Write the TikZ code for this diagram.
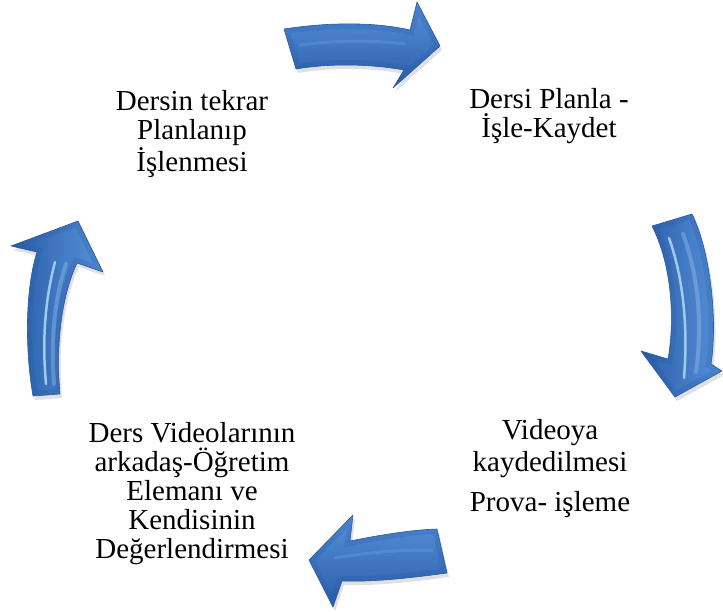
\documentclass[tikz,border=0pt]{standalone}
\usepackage{fontspec}
\setmainfont{Liberation Serif}
\definecolor{arrowmain}{RGB}{62,122,202}
\definecolor{arrowdark}{RGB}{40,90,165}
\definecolor{arrowlight}{RGB}{88,148,220}
\definecolor{hilite}{RGB}{175,218,252}
\begin{document}
\begin{tikzpicture}[x=1pt,y=-1pt]
\tikzset{
  arrowedge/.style={draw=arrowdark, line width=0.6pt, line join=round},
  bevel/.style={draw=arrowdark, line width=10pt, opacity=0.25, line join=miter},
  shine/.style={draw=hilite, line width=2.5pt, line cap=round, opacity=0.85},
  softshine/.style={draw=hilite, line width=4pt, line cap=round, opacity=0.3},
  faintshine/.style={draw=hilite, line width=3pt, line cap=round, opacity=0.15},
  shadowfill/.style={fill=black, opacity=0.12},
  label/.style={font=\fontsize{29}{29}\selectfont, align=center, inner sep=0pt, text=black}
}
\useasboundingbox (0,0) rectangle (723,611);

% outlines of the four curved arrows
\def\pathTop{(284,29) .. controls (330,22) and (375,22) .. (410,30) -- (417,2) -- (440,46) -- (393,88) -- (404,70) .. controls (365,63) and (325,64) .. (296,69) -- cycle}
\def\pathRight{(652,226) -- (692,214) .. controls (710,250) and (718,320) .. (711,364) -- (722,371) -- (675,397) -- (641,351) -- (668,359) .. controls (675,320) and (672,265) .. (652,226) -- cycle}
\def\pathBottom{(437,529) -- (447,573) .. controls (410,578) and (375,582) .. (342,581) -- (333,607) -- (309,560) -- (353,515) -- (350,541) .. controls (380,535) and (410,530) .. (437,529) -- cycle}
\def\pathLeft{(78,221) -- (103,272) -- (77,263) .. controls (60,300) and (56,350) .. (60,394) -- (33,396) .. controls (25,350) and (25,290) .. (37,252) -- (11,246) -- cycle}

% soft shadows
\fill[shadowfill, shift={(2,4)}] \pathTop;
\fill[shadowfill, shift={(2,4)}] \pathRight;
\fill[shadowfill, shift={(2,4)}] \pathBottom;
\fill[shadowfill, shift={(2,4)}] \pathLeft;

% top arrow
\begin{scope}
  \clip \pathTop;
  \shade[top color=arrowlight, middle color=arrowmain, bottom color=arrowdark] (280,0) rectangle (445,92);
  \draw[bevel] \pathTop;
  \draw[faintshine] (300,45) .. controls (340,40) and (370,40) .. (405,44);
\end{scope}
\draw[arrowedge] \pathTop;

% right arrow
\begin{scope}
  \clip \pathRight;
  \shade[left color=arrowdark, middle color=arrowmain, right color=arrowlight] (638,210) rectangle (724,400);
  \draw[bevel] \pathRight;
  \draw[shine] (669,238) .. controls (684,280) and (688,330) .. (684,378);
  \draw[softshine] (683,234) .. controls (700,280) and (702,330) .. (696,372);
\end{scope}
\draw[arrowedge] \pathRight;

% bottom arrow
\begin{scope}
  \clip \pathBottom;
  \shade[top color=arrowlight, middle color=arrowmain, bottom color=arrowdark] (305,512) rectangle (450,610);
  \draw[bevel] \pathBottom;
  \draw[faintshine] (335,558) .. controls (370,552) and (400,550) .. (432,550);
\end{scope}
\draw[arrowedge] \pathBottom;

% left arrow
\begin{scope}
  \clip \pathLeft;
  \shade[left color=arrowdark, middle color=arrowmain, right color=arrowlight] (8,218) rectangle (106,398);
  \draw[bevel] \pathLeft;
  \draw[shine] (55,262) .. controls (45,300) and (42,340) .. (46,384);
  \draw[softshine] (66,264) .. controls (54,300) and (51,340) .. (54,384);
\end{scope}
\draw[arrowedge] \pathLeft;

% step captions
\node[label] (plan)   at (192,134) {Dersin tekrar\\Planlanıp\\İşlenmesi};
\node[label] (record) at (549,116) {Dersi Planla -\\İşle-Kaydet};
\node[label] (video)  at (550,469) {Videoya\\[3pt]kaydedilmesi\\[11pt]Prova- işleme};
\node[label] (review) at (192,494) {Ders Videolarının\\arkadaş-Öğretim\\Elemanı ve\\Kendisinin\\Değerlendirmesi};
\end{tikzpicture}
\end{document}
